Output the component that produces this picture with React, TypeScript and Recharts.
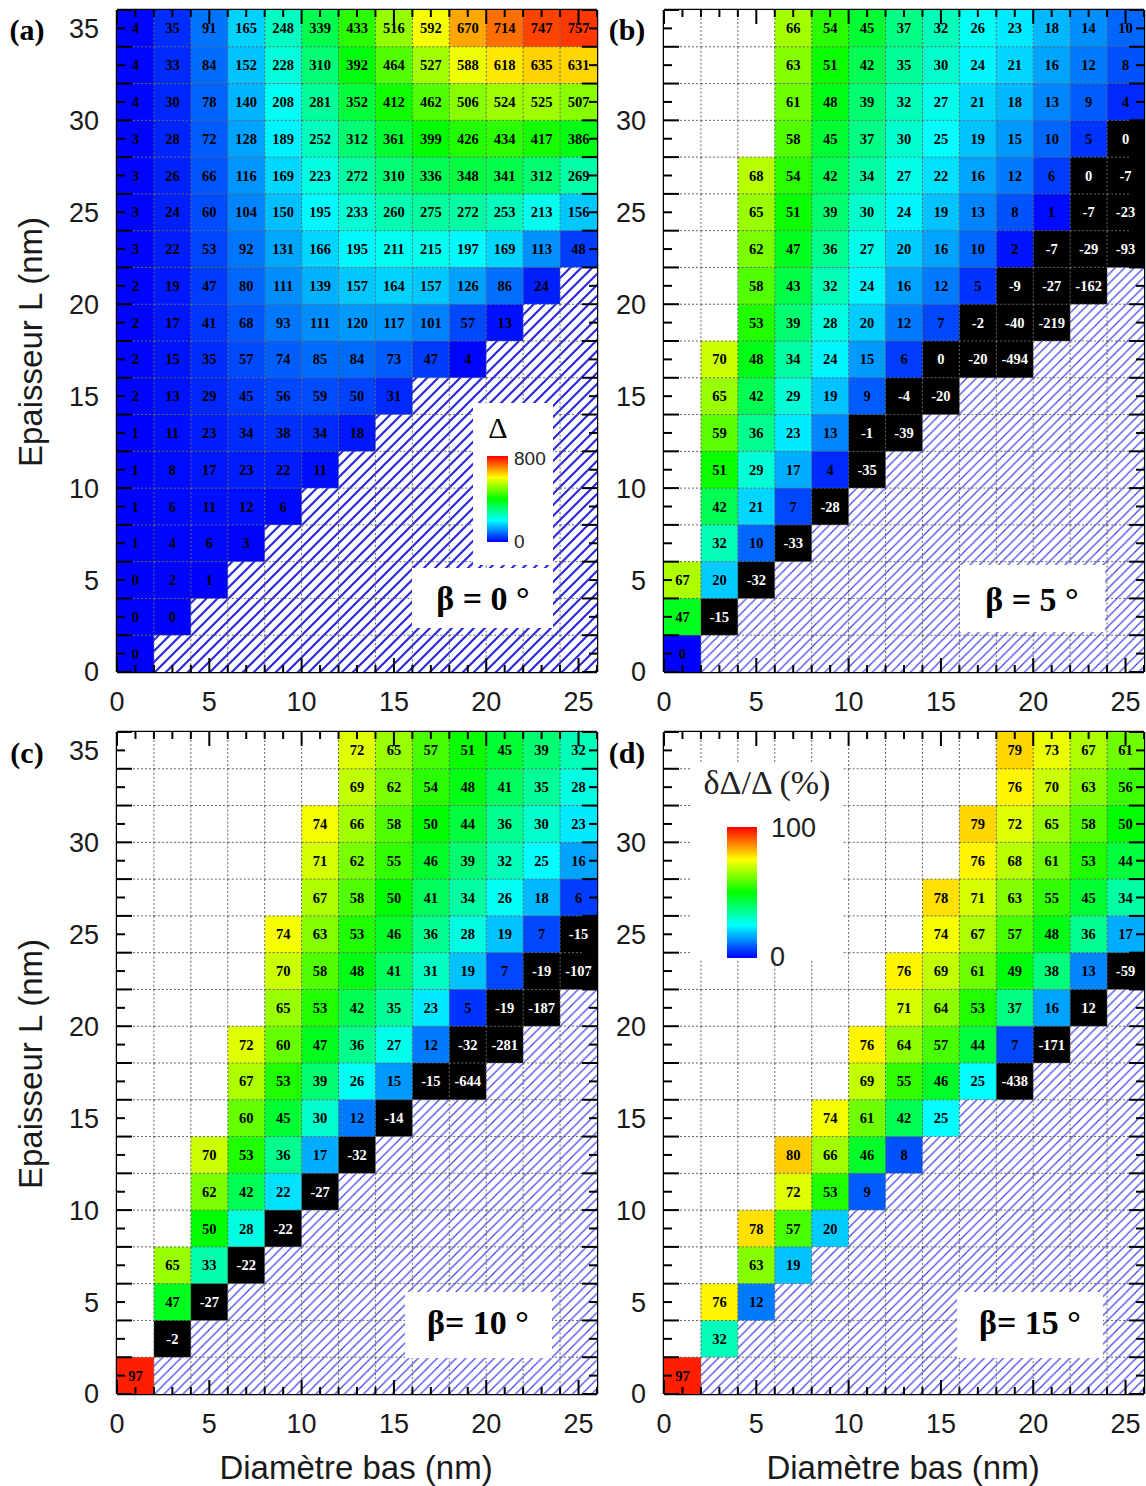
import { ScatterChart, Scatter, XAxis, YAxis } from 'recharts';

const _ = null;

// cell centres (nm)
const diameters = [1, 3, 5, 7, 9, 11, 13, 15, 17, 19, 21, 23, 25];
const thicknesses = [35, 33, 31, 29, 27, 25, 23, 21, 19, 17, 15, 13, 11, 9, 7, 5, 3, 1];

const xTicks = [0, 1, 2, 3, 4, 5, 6, 7, 8, 9, 10, 11, 12, 13, 14, 15, 16, 17, 18, 19, 20, 21, 22, 23, 24, 25, 26];
const yTicks = [0, 1, 2, 3, 4, 5, 6, 7, 8, 9, 10, 11, 12, 13, 14, 15, 16, 17, 18, 19, 20, 21, 22, 23, 24, 25, 26, 27, 28, 29, 30, 31, 32, 33, 34, 35, 36];
const xLabels = [0, 5, 10, 15, 20, 25];
const yLabelsLeft = [0, 5, 10, 15, 20, 25, 30, 35];
// right-hand panels: the panel letter sits where 35 would be
const yLabelsRight = [0, 5, 10, 15, 20, 25, 30];

// rows go from L = 35 (top) down to L = 1; cells past the end of a row are hatched, _ = no data
const deltaBeta0 = [
  [4, 35, 91, 165, 248, 339, 433, 516, 592, 670, 714, 747, 757],
  [4, 33, 84, 152, 228, 310, 392, 464, 527, 588, 618, 635, 631],
  [4, 30, 78, 140, 208, 281, 352, 412, 462, 506, 524, 525, 507],
  [3, 28, 72, 128, 189, 252, 312, 361, 399, 426, 434, 417, 386],
  [3, 26, 66, 116, 169, 223, 272, 310, 336, 348, 341, 312, 269],
  [3, 24, 60, 104, 150, 195, 233, 260, 275, 272, 253, 213, 156],
  [3, 22, 53, 92, 131, 166, 195, 211, 215, 197, 169, 113, 48],
  [2, 19, 47, 80, 111, 139, 157, 164, 157, 126, 86, 24],
  [2, 17, 41, 68, 93, 111, 120, 117, 101, 57, 13],
  [2, 15, 35, 57, 74, 85, 84, 73, 47, 4],
  [2, 13, 29, 45, 56, 59, 50, 31],
  [1, 11, 23, 34, 38, 34, 18],
  [1, 8, 17, 23, 22, 11],
  [1, 6, 11, 12, 6],
  [1, 4, 6, 3],
  [0, 2, 1],
  [0, 0],
  [0],
];

const errBeta5 = [
  [_, _, _, 66, 54, 45, 37, 32, 26, 23, 18, 14, 10],
  [_, _, _, 63, 51, 42, 35, 30, 24, 21, 16, 12, 8],
  [_, _, _, 61, 48, 39, 32, 27, 21, 18, 13, 9, 4],
  [_, _, _, 58, 45, 37, 30, 25, 19, 15, 10, 5, 0],
  [_, _, 68, 54, 42, 34, 27, 22, 16, 12, 6, 0, -7],
  [_, _, 65, 51, 39, 30, 24, 19, 13, 8, 1, -7, -23],
  [_, _, 62, 47, 36, 27, 20, 16, 10, 2, -7, -29, -93],
  [_, _, 58, 43, 32, 24, 16, 12, 5, -9, -27, -162],
  [_, _, 53, 39, 28, 20, 12, 7, -2, -40, -219],
  [_, 70, 48, 34, 24, 15, 6, 0, -20, -494],
  [_, 65, 42, 29, 19, 9, -4, -20],
  [_, 59, 36, 23, 13, -1, -39],
  [_, 51, 29, 17, 4, -35],
  [_, 42, 21, 7, -28],
  [_, 32, 10, -33],
  [67, 20, -32],
  [47, -15],
  [0],
];

const errBeta10 = [
  [_, _, _, _, _, _, 72, 65, 57, 51, 45, 39, 32],
  [_, _, _, _, _, _, 69, 62, 54, 48, 41, 35, 28],
  [_, _, _, _, _, 74, 66, 58, 50, 44, 36, 30, 23],
  [_, _, _, _, _, 71, 62, 55, 46, 39, 32, 25, 16],
  [_, _, _, _, _, 67, 58, 50, 41, 34, 26, 18, 6],
  [_, _, _, _, 74, 63, 53, 46, 36, 28, 19, 7, -15],
  [_, _, _, _, 70, 58, 48, 41, 31, 19, 7, -19, -107],
  [_, _, _, _, 65, 53, 42, 35, 23, 5, -19, -187],
  [_, _, _, 72, 60, 47, 36, 27, 12, -32, -281],
  [_, _, _, 67, 53, 39, 26, 15, -15, -644],
  [_, _, _, 60, 45, 30, 12, -14],
  [_, _, 70, 53, 36, 17, -32],
  [_, _, 62, 42, 22, -27],
  [_, _, 50, 28, -22],
  [_, 65, 33, -22],
  [_, 47, -27],
  [_, -2],
  [97],
];

const errBeta15 = [
  [_, _, _, _, _, _, _, _, _, 79, 73, 67, 61],
  [_, _, _, _, _, _, _, _, _, 76, 70, 63, 56],
  [_, _, _, _, _, _, _, _, 79, 72, 65, 58, 50],
  [_, _, _, _, _, _, _, _, 76, 68, 61, 53, 44],
  [_, _, _, _, _, _, _, 78, 71, 63, 55, 45, 34],
  [_, _, _, _, _, _, _, 74, 67, 57, 48, 36, 17],
  [_, _, _, _, _, _, 76, 69, 61, 49, 38, 13, -59],
  [_, _, _, _, _, _, 71, 64, 53, 37, 16, 12],
  [_, _, _, _, _, 76, 64, 57, 44, 7, -171],
  [_, _, _, _, _, 69, 55, 46, 25, -438],
  [_, _, _, _, 74, 61, 42, 25],
  [_, _, _, 80, 66, 46, 8],
  [_, _, _, 72, 53, 9],
  [_, _, 78, 57, 20],
  [_, _, 63, 19],
  [_, 76, 12],
  [_, 32],
  [97],
];

// cells shown black although the rounded value is not negative [diameter, L]
const blackBeta5 = [[25, 29], [23, 27], [15, 17]];
const blackBeta15 = [[23, 21]];

const SANS = '"Liberation Sans", Arial, sans-serif';
const SERIF = '"Liberation Serif", "Times New Roman", serif';

const PLOT_W = 480;
const PLOT_H = 662;
const CW = PLOT_W / diameters.length;
const CH = PLOT_H / thicknesses.length;

const rainbowStops = [
  [0, 0, 255],
  [0, 255, 255],
  [0, 255, 0],
  [255, 255, 0],
  [255, 0, 0],
];

function rainbow(t: number) {
  const u = Math.max(0, Math.min(1, t)) * 4;
  const i = Math.min(3, Math.floor(u));
  const f = u - i;
  const a = rainbowStops[i];
  const b = rainbowStops[i + 1];
  const c = a.map((v, k) => Math.round(v + (b[k] - v) * f));
  return `rgb(${c[0]},${c[1]},${c[2]})`;
}

function buildCells(rows: (number | null)[][], black: number[][]) {
  const cells: any[] = [];
  rows.forEach((row, r) => {
    const y = thicknesses[r];
    diameters.forEach((x, c) => {
      if (c >= row.length) cells.push({ x, y, kind: 'hatch' });
      else if (row[c] === null) cells.push({ x, y, kind: 'blank' });
      else {
        const v = row[c] as number;
        const isBlack = v < 0 || black.some(([bx, by]) => bx === x && by === y);
        cells.push({ x, y, v, kind: isBlack ? 'black' : 'value' });
      }
    });
  });
  return cells;
}

// ticks point into the plot, labels sit outside
const BottomTick = (p: any) => {
  const v = p.payload.value;
  const major = v % 5 === 0;
  return (
    <g>
      <line x1={p.x} x2={p.x} y1={p.y} y2={p.y - (major ? 14 : 7)} stroke="#000" strokeWidth={2} />
      {xLabels.includes(v) && (
        <text x={p.x} y={p.y + 39} textAnchor="middle" fontFamily={SANS} fontSize={27} fill="#1a1a1a">
          {v}
        </text>
      )}
    </g>
  );
};

const TopTick = (p: any) => {
  const major = p.payload.value % 5 === 0;
  return <line x1={p.x} x2={p.x} y1={p.y} y2={p.y + (major ? 14 : 7)} stroke="#000" strokeWidth={2} />;
};

const makeLeftTick = (labels: number[]) => (p: any) => {
  const v = p.payload.value;
  const major = v % 2 === 0;
  return (
    <g>
      <line x1={p.x} x2={p.x + (major ? 15 : 8)} y1={p.y} y2={p.y} stroke="#000" strokeWidth={2} />
      {labels.includes(v) && (
        <text x={p.x - 18} y={p.y} dy="0.35em" textAnchor="end" fontFamily={SANS} fontSize={27} fill="#1a1a1a">
          {v}
        </text>
      )}
    </g>
  );
};

const RightTick = (p: any) => {
  const major = p.payload.value % 2 === 0;
  return <line x1={p.x} x2={p.x - (major ? 15 : 8)} y1={p.y} y2={p.y} stroke="#000" strokeWidth={2} />;
};

const frame = { stroke: '#000', strokeWidth: 2.5 };

interface PanelProps {
  id: string;
  rows: (number | null)[][];
  black: number[][];
  vmax: number;
  yLabels: number[];
  hatchColor: string;
  hatchWidth: number;
  hatchStep: number;
  left: number;
  top: number;
}

function Panel({ id, rows, black, vmax, yLabels, hatchColor, hatchWidth, hatchStep, left, top }: PanelProps) {
  const cells = buildCells(rows, black);
  const s = hatchStep;
  const LeftTick = makeLeftTick(yLabels);

  const CellFill = (p: any) => {
    const { cx, cy, payload } = p;
    let fill = '#fff';
    if (payload.kind === 'hatch') fill = `url(#hatch-${id})`;
    else if (payload.kind === 'black') fill = '#000';
    else if (payload.kind === 'value') fill = rainbow(payload.v / vmax);
    return <rect x={cx - CW / 2} y={cy - CH / 2} width={CW + 0.6} height={CH + 0.6} fill={fill} />;
  };

  const CellGrid = (p: any) => {
    const { cx, cy, payload } = p;
    const x0 = cx - CW / 2;
    const y0 = cy - CH / 2;
    return (
      <g>
        {payload.y !== 35 && (
          <line x1={x0} x2={x0 + CW} y1={y0} y2={y0} stroke="#666" strokeWidth={1} strokeDasharray="2 2" />
        )}
        {payload.x !== 1 && (
          <line x1={x0} x2={x0} y1={y0} y2={y0 + CH} stroke="#666" strokeWidth={1} strokeDasharray="2 2" />
        )}
        {payload.v !== undefined && (
          <text
            x={cx}
            y={cy}
            dy="0.35em"
            textAnchor="middle"
            fontFamily={SERIF}
            fontWeight="bold"
            fontSize={14.5}
            fill={payload.kind === 'black' ? '#fff' : '#000'}
          >
            {payload.v}
          </text>
        )}
      </g>
    );
  };

  return (
    <div style={{ position: 'absolute', left, top }}>
      <ScatterChart width={542} height={722} margin={{ top: 8, right: 0, bottom: 0, left: 0 }}>
        <defs>
          <pattern id={`hatch-${id}`} patternUnits="userSpaceOnUse" width={s} height={s}>
            <rect width={s} height={s} fill="#fff" />
            <path
              d={`M-1,1 l2,-2 M0,${s} l${s},-${s} M${s - 1},${s + 1} l2,-2`}
              stroke={hatchColor}
              strokeWidth={hatchWidth}
            />
          </pattern>
        </defs>
        <XAxis
          xAxisId="b"
          dataKey="x"
          type="number"
          orientation="bottom"
          domain={[0, 26]}
          ticks={xTicks}
          interval={0}
          tickSize={0}
          tickMargin={0}
          height={50}
          axisLine={frame}
          tickLine={false}
          tick={BottomTick}
          allowDataOverflow
        />
        <XAxis
          xAxisId="t"
          dataKey="x"
          type="number"
          orientation="top"
          domain={[0, 26]}
          ticks={xTicks}
          interval={0}
          tickSize={0}
          tickMargin={0}
          height={2}
          axisLine={frame}
          tickLine={false}
          tick={TopTick}
          allowDataOverflow
        />
        <YAxis
          yAxisId="l"
          dataKey="y"
          type="number"
          orientation="left"
          domain={[0, 36]}
          ticks={yTicks}
          interval={0}
          tickSize={0}
          tickMargin={0}
          width={60}
          axisLine={frame}
          tickLine={false}
          tick={LeftTick}
          allowDataOverflow
        />
        <YAxis
          yAxisId="r"
          dataKey="y"
          type="number"
          orientation="right"
          domain={[0, 36]}
          ticks={yTicks}
          interval={0}
          tickSize={0}
          tickMargin={0}
          width={2}
          axisLine={frame}
          tickLine={false}
          tick={RightTick}
          allowDataOverflow
        />
        <Scatter data={cells} xAxisId="b" yAxisId="l" shape={CellFill} isAnimationActive={false} />
        <Scatter data={cells} xAxisId="b" yAxisId="l" shape={CellGrid} isAnimationActive={false} />
      </ScatterChart>
    </div>
  );
}

const centered = (x: number, y: number, extra: any) => ({
  position: 'absolute' as const,
  left: x,
  top: y,
  transform: 'translate(-50%, -50%)',
  whiteSpace: 'nowrap' as const,
  lineHeight: 1,
  ...extra,
});

const leftMid = (x: number, y: number, extra: any) => ({
  position: 'absolute' as const,
  left: x,
  top: y,
  transform: 'translateY(-50%)',
  whiteSpace: 'nowrap' as const,
  lineHeight: 1,
  ...extra,
});

const box = (x0: number, y0: number, x1: number, y1: number) => ({
  position: 'absolute' as const,
  left: x0,
  top: y0,
  width: x1 - x0,
  height: y1 - y0,
  background: '#fff',
});

const jetBar = 'linear-gradient(to top, #0000ff 0%, #00ffff 25%, #00ff00 50%, #ffff00 75%, #ff0000 100%)';

const betaStyle = { fontFamily: SERIF, fontWeight: 'bold', fontSize: 34, color: '#000' };
const letterStyle = { fontFamily: SERIF, fontWeight: 'bold', fontSize: 30, color: '#000' };
const titleStyle = { fontFamily: SANS, fontSize: 33, color: '#1a1a1a' };

export default function App() {
  return (
    <div
      style={{
        position: 'absolute',
        left: 0,
        top: 0,
        width: 1146,
        height: 1486,
        background: '#fff',
        overflow: 'hidden',
      }}
    >
      <Panel id="a" rows={deltaBeta0} black={[]} vmax={800} yLabels={yLabelsLeft} hatchColor="#2a2ae0" hatchWidth={2.2} hatchStep={11} left={57} top={0} />
      <Panel id="b" rows={errBeta5} black={blackBeta5} vmax={100} yLabels={yLabelsRight} hatchColor="#4040ee" hatchWidth={1.2} hatchStep={9.5} left={604} top={0} />
      <Panel id="c" rows={errBeta10} black={[]} vmax={100} yLabels={yLabelsLeft} hatchColor="#4040ee" hatchWidth={1.2} hatchStep={9.5} left={57} top={722} />
      <Panel id="d" rows={errBeta15} black={blackBeta15} vmax={100} yLabels={yLabelsRight} hatchColor="#4040ee" hatchWidth={1.2} hatchStep={9.5} left={604} top={722} />

      {/* panel (a) colour scale */}
      <div style={box(473, 403, 553, 565)} />
      <div style={centered(498, 428, { fontFamily: SERIF, fontSize: 30 })}>Δ</div>
      <div style={{ position: 'absolute', left: 487, top: 456, width: 21, height: 86, background: jetBar }} />
      <div style={leftMid(514, 458, { fontFamily: SANS, fontSize: 19, color: '#222' })}>800</div>
      <div style={leftMid(514, 541, { fontFamily: SANS, fontSize: 19, color: '#222' })}>0</div>

      {/* panel (d) colour scale */}
      <div style={box(692, 762, 842, 960)} />
      <div style={centered(767, 783, { fontFamily: SERIF, fontSize: 34, color: '#222' })}>δΔ/Δ (%)</div>
      <div style={{ position: 'absolute', left: 727, top: 827, width: 30, height: 131, background: jetBar }} />
      <div style={leftMid(771, 828, { fontFamily: SANS, fontSize: 27, color: '#222' })}>100</div>
      <div style={leftMid(770, 957, { fontFamily: SANS, fontSize: 27, color: '#222' })}>0</div>

      {/* beta labels */}
      <div style={box(412, 568, 553, 628)} />
      <div style={centered(483, 599, betaStyle)}>β = 0 °</div>
      <div style={box(960, 565, 1105, 632)} />
      <div style={centered(1032, 600, betaStyle)}>β = 5 °</div>
      <div style={box(405, 1292, 552, 1358)} />
      <div style={centered(478, 1323, betaStyle)}>β= 10 °</div>
      <div style={box(957, 1292, 1103, 1358)} />
      <div style={centered(1030, 1323, betaStyle)}>β= 15 °</div>

      {/* panel letters */}
      <div style={centered(27, 30, letterStyle)}>(a)</div>
      <div style={centered(627, 30, letterStyle)}>(b)</div>
      <div style={centered(27, 753, letterStyle)}>(c)</div>
      <div style={centered(627, 753, letterStyle)}>(d)</div>

      {/* axis titles */}
      <div style={centered(30, 342, { ...titleStyle, transform: 'translate(-50%, -50%) rotate(-90deg)' })}>
        Epaisseur L (nm)
      </div>
      <div style={centered(30, 1064, { ...titleStyle, transform: 'translate(-50%, -50%) rotate(-90deg)' })}>
        Epaisseur L (nm)
      </div>
      <div style={centered(356, 1467, titleStyle)}>Diamètre bas (nm)</div>
      <div style={centered(903, 1467, titleStyle)}>Diamètre bas (nm)</div>
    </div>
  );
}
